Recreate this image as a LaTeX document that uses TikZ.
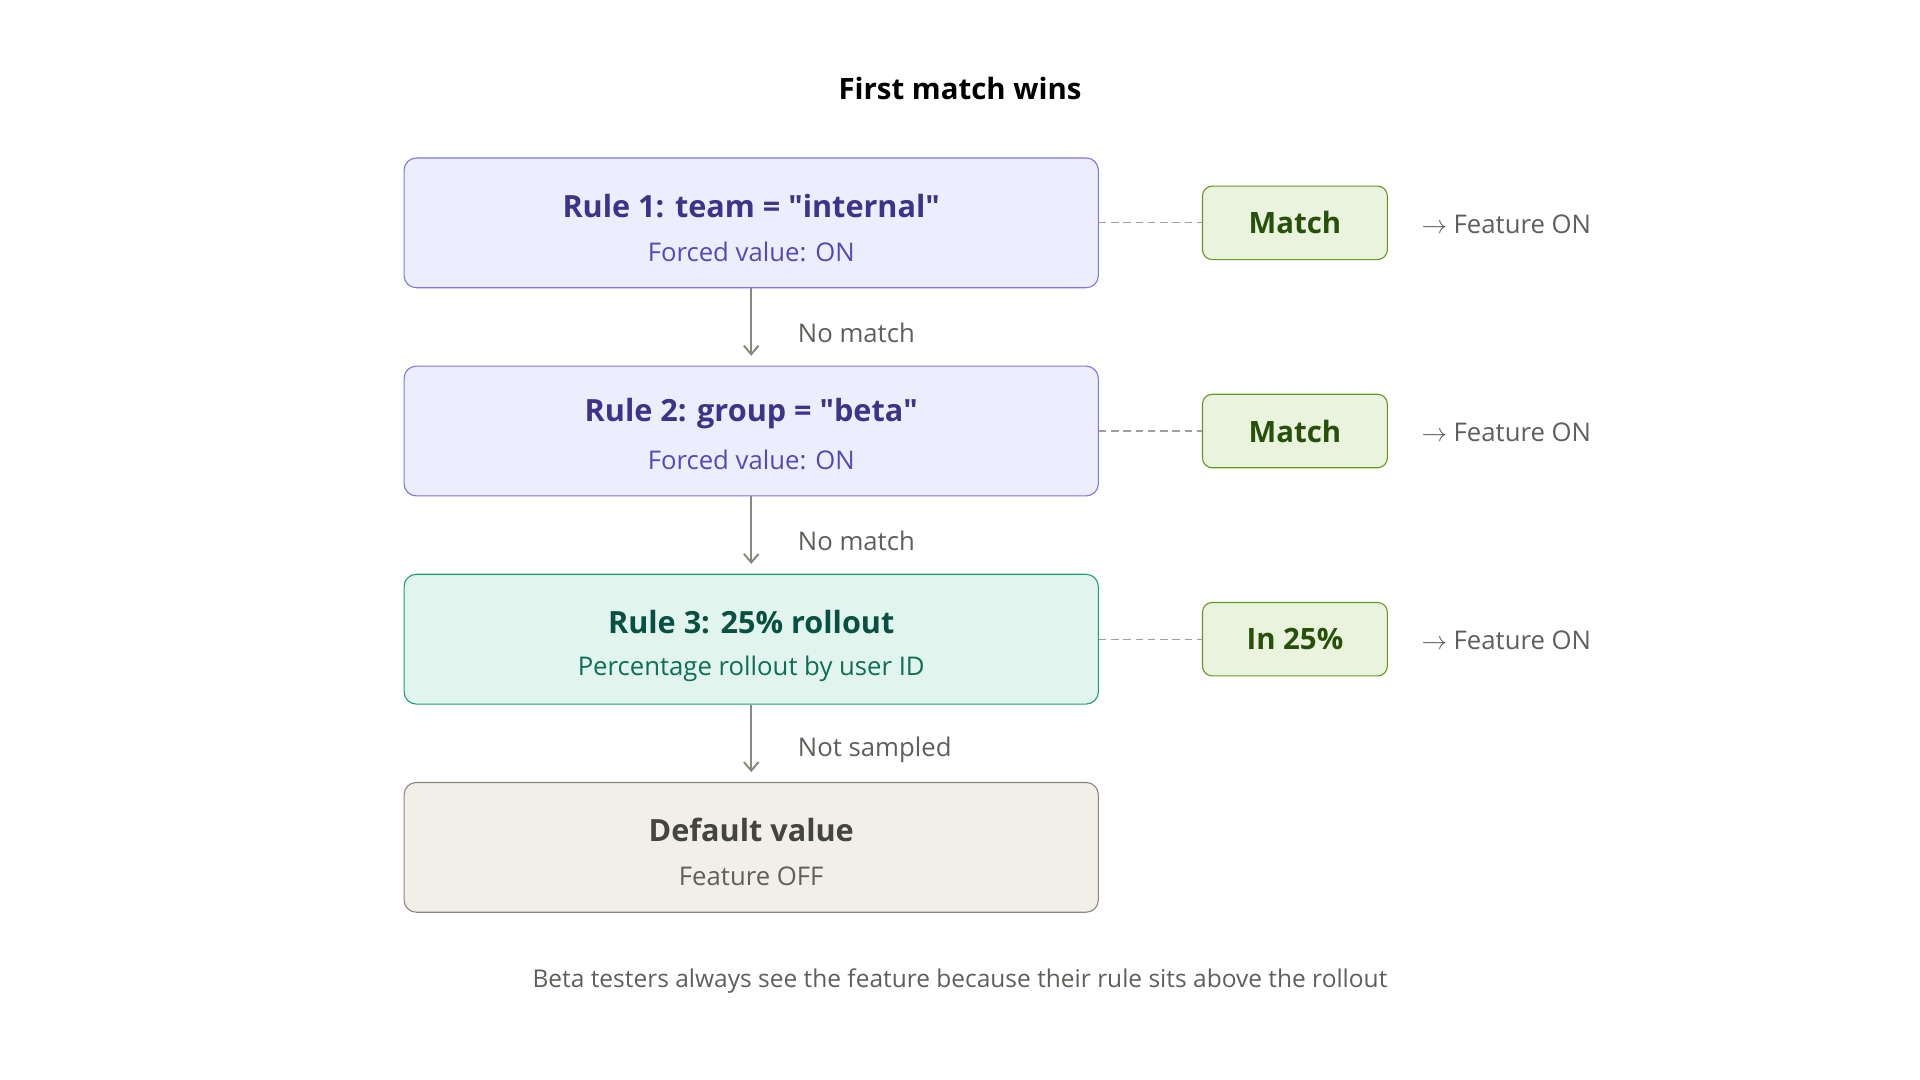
\documentclass[tikz,border=0pt]{standalone}
\usepackage{fontspec}
\setmainfont{Open Sans}
\usetikzlibrary{positioning,arrows.meta}
\definecolor{ruleFill}{HTML}{EEEDFE}
\definecolor{ruleLine}{HTML}{7F77DD}
\definecolor{ruleHead}{HTML}{3C3489}
\definecolor{ruleSub}{HTML}{534AB7}
\definecolor{rollFill}{HTML}{E1F5EE}
\definecolor{rollLine}{HTML}{1D9E75}
\definecolor{rollHead}{HTML}{085041}
\definecolor{rollSub}{HTML}{0F6E56}
\definecolor{defFill}{HTML}{F1EFE8}
\definecolor{defLine}{HTML}{888780}
\definecolor{defHead}{HTML}{444441}
\definecolor{defSub}{HTML}{5F5E5A}
\definecolor{hitFill}{HTML}{EAF3DE}
\definecolor{hitLine}{HTML}{639922}
\definecolor{hitText}{HTML}{27500A}
\definecolor{note}{HTML}{5F5E5A}
\tikzset{
  rulebox/.style={draw,rounded corners=10pt,line width=0.9pt,minimum width=567pt,
    minimum height=106pt,inner sep=0pt},
  head/.style={font=\fontsize{25}{30}\selectfont\bfseries},
  sub/.style={font=\fontsize{21}{25}\selectfont},
  hit/.style={draw=hitLine,fill=hitFill,rounded corners=8pt,line width=0.9pt,
    minimum width=151pt,minimum height=60pt,text=hitText,
    font=\fontsize{24}{28}\selectfont\bfseries},
  flow/.style={draw=defLine,line width=1.6pt,-{Straight Barb[length=7pt,width=12pt]},
    shorten >=8pt},
  link/.style={draw=defLine!80,line width=1pt,dash pattern=on 6pt off 4pt},
  lbl/.style={text=note,font=\fontsize{21}{25}\selectfont,anchor=west}
}
\begin{document}
\begin{tikzpicture}[x=1pt,y=-1pt]
  \useasboundingbox (0,0) rectangle (1568,882);
  \node [font=\fontsize{24}{28}\selectfont\bfseries] (title) at (784,72) {First match wins};
  % rule boxes
  \node [rulebox,fill=ruleFill,draw=ruleLine] (r1) at (613.5,182) {};
  \node [head,text=ruleHead] (r1h) at (613.5,168) {Rule 1: team = \textquotedbl internal\textquotedbl};
  \node [sub,text=ruleSub] (r1s) at (613.5,206) {Forced value: ON};
  \node [rulebox,fill=ruleFill,draw=ruleLine] (r2) at (613.5,352) {};
  \node [head,text=ruleHead] (r2h) at (613.5,338) {Rule 2: group = \textquotedbl beta\textquotedbl};
  \node [sub,text=ruleSub] (r2s) at (613.5,376) {Forced value: ON};
  \node [rulebox,fill=rollFill,draw=rollLine] (r3) at (613.5,522) {};
  \node [head,text=rollHead] (r3h) at (613.5,508) {Rule 3: 25\% rollout};
  \node [sub,text=rollSub] (r3s) at (613.5,546) {Percentage rollout by user ID};
  \node [rulebox,fill=defFill,draw=defLine] (def) at (613.5,692) {};
  \node [head,text=defHead] (defh) at (613.5,678) {Default value};
  \node [sub,text=defSub] (defs) at (613.5,716) {Feature OFF};
  % outcomes
  \node [hit] (h1) at (1057.5,182) {Match};
  \node [hit] (h2) at (1057.5,352) {Match};
  \node [hit] (h3) at (1057.5,522) {In 25\%};
  \foreach \r/\h in {r1/h1,r2/h2,r3/h3}{
    \draw [link] (\r.east) -- (\h.west);
    \node [lbl] at ([xshift=24pt,yshift=-1pt]\h.east) {$\rightarrow$ Feature ON};
  }
  % flow
  \draw [flow] (r1.south) -- (r2.north) node [lbl,midway,xshift=34pt,yshift=-5pt] {No match};
  \draw [flow] (r2.south) -- (r3.north) node [lbl,midway,xshift=34pt,yshift=-5pt] {No match};
  \draw [flow] (r3.south) -- (def.north) node [lbl,midway,xshift=34pt,yshift=-5pt] {Not sampled};
  \node [text=note,font=\fontsize{20}{24}\selectfont] (cap) at (784,801)
    {Beta testers always see the feature because their rule sits above the rollout};
\end{tikzpicture}
\end{document}
